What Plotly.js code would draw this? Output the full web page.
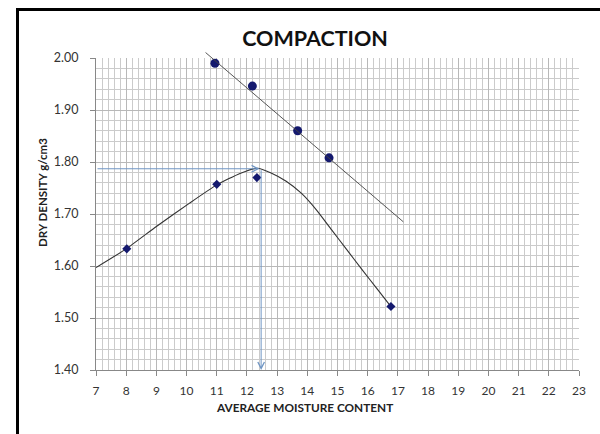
<!DOCTYPE html>
<html>
<head>
<meta charset="utf-8">
<script src="https://cdn.plot.ly/plotly-3.0.1.min.js"></script>
<style>html,body{margin:0;padding:0;background:#fff;}#chart{width:600px;height:434px;}</style>
</head>
<body>
<div id="chart"></div>
<script>
// Compaction curve (smooth fitted curve through test points)
const curveX = [7.0, 8.0, 9.0, 10.1, 11.0, 11.77, 12.35, 12.8, 13.3, 13.8, 14.3, 14.8, 15.3, 15.8, 16.3, 16.77];
const curveY = [1.597, 1.633, 1.676, 1.721, 1.756, 1.778, 1.788, 1.779, 1.763, 1.740, 1.708, 1.670, 1.632, 1.594, 1.557, 1.522];
// Test points (dry density vs moisture)
const testX = [8.02, 11.0, 12.33, 16.77];
const testY = [1.633, 1.757, 1.770, 1.522];
// Upper points and straight trend line
const upperX = [10.94, 12.18, 13.68, 14.72];
const upperY = [1.990, 1.946, 1.860, 1.808];
const upperLineX = [10.58, 17.18];
const upperLineY = [2.013, 1.685];
// Optimum values (arrows)
const optMoisture = 12.47;
const maxDensity = 1.787;
const xMin = 7, xMax = 23, yMin = 1.40, yMax = 2.00;
const xTicks = [7,8,9,10,11,12,13,14,15,16,17,18,19,20,21,22,23];
const yTicks = [1.40, 1.50, 1.60, 1.70, 1.80, 1.90, 2.00];

const FONT = 'Lato, "Open Sans", sans-serif';
const arrowColor = '#7096c4';

const traces = [
  {x: curveX, y: curveY, mode: 'lines', line: {color: '#333', width: 1.1, shape: 'spline', smoothing: 0.5}, hoverinfo: 'skip'},
  {x: testX, y: testY, mode: 'markers', marker: {symbol: 'diamond', size: 7, color: '#14196e'}},
  {x: upperX, y: upperY, mode: 'markers', marker: {symbol: 'circle', size: 9, color: '#14196e'}}
];

const layout = {
  width: 600, height: 434,
  margin: {l: 96, r: 21, t: 58, b: 64},
  paper_bgcolor: '#fff', plot_bgcolor: '#fff',
  showlegend: false,
  font: {family: FONT, color: '#333', size: 11},
  title: {text: '<b>COMPACTION</b>', font: {family: FONT, size: 21.5, color: '#111'},
          xref: 'container', yref: 'container', x: 315/600, xanchor: 'center', y: 1 - 38/434, yanchor: 'middle'},
  xaxis: {
    range: [xMin, xMax], tickvals: xTicks, ticktext: xTicks.map(String),
    showgrid: true, gridcolor: '#b8b8b8', gridwidth: 1,
    minor: {dtick: 0.2, showgrid: true, gridcolor: '#cbcbcb', gridwidth: 1},
    showline: true, linecolor: '#888', linewidth: 1,
    ticks: 'outside', ticklen: 5, tickcolor: '#888', ticklabelstandoff: 5,
    tickfont: {family: FONT, size: 12, color: '#333'}, zeroline: false
  },
  yaxis: {
    range: [yMin, yMax], tickvals: yTicks, ticktext: yTicks.map(v => v.toFixed(2)),
    showgrid: true, gridcolor: '#b8b8b8', gridwidth: 1,
    minor: {dtick: 0.02, showgrid: true, gridcolor: '#cbcbcb', gridwidth: 1},
    showline: true, linecolor: '#888', linewidth: 1,
    ticks: 'outside', ticklen: 5, tickcolor: '#888', ticklabelstandoff: 9,
    tickfont: {family: FONT, size: 12.5, color: '#333'}, zeroline: false
  },
  annotations: [
    // upper straight line (extends slightly past the plot top)
    {x: upperLineX[1], y: upperLineY[1], ax: upperLineX[0], ay: upperLineY[0], xref: 'x', yref: 'y', axref: 'x', ayref: 'y',
     text: '', showarrow: true, arrowhead: 0, arrowwidth: 0.9, arrowcolor: '#444', standoff: 0, startstandoff: 0},
    // horizontal arrow to max dry density
    {x: optMoisture - 0.05, y: maxDensity, ax: xMin, ay: maxDensity, xref: 'x', yref: 'y', axref: 'x', ayref: 'y',
     text: '', showarrow: true, arrowhead: 5, arrowsize: 1.3, arrowwidth: 1, arrowcolor: arrowColor, standoff: 0},
    // vertical arrow to optimum moisture
    {x: optMoisture, y: yMin, ax: optMoisture, ay: maxDensity, xref: 'x', yref: 'y', axref: 'x', ayref: 'y',
     text: '', showarrow: true, arrowhead: 5, arrowsize: 1.3, arrowwidth: 1, arrowcolor: arrowColor, standoff: 0},
    {text: '<b>AVERAGE MOISTURE CONTENT</b>', xref: 'paper', yref: 'paper', x: (304-96)/483, y: (370-407)/312,
     xanchor: 'center', yanchor: 'middle', showarrow: false, font: {family: FONT, size: 11.8, color: '#222'}},
    {text: '<b>DRY DENSITY g/cm3</b>', xref: 'paper', yref: 'paper', x: (42-96)/483, y: (370-193)/312,
     xanchor: 'center', yanchor: 'middle', showarrow: false, textangle: -90, font: {family: FONT, size: 11.5, color: '#222'}}
  ],
  shapes: [
    {type: 'rect', xref: 'paper', yref: 'paper', x0: (17.5-96)/483, x1: (602-96)/483, y0: (370-445)/312, y1: (370-9.5)/312,
     line: {color: '#000', width: 3}, fillcolor: 'rgba(0,0,0,0)', layer: 'below'}
  ]
};

Plotly.newPlot('chart', traces, layout, {staticPlot: true, displayModeBar: false});
</script>
</body>
</html>
